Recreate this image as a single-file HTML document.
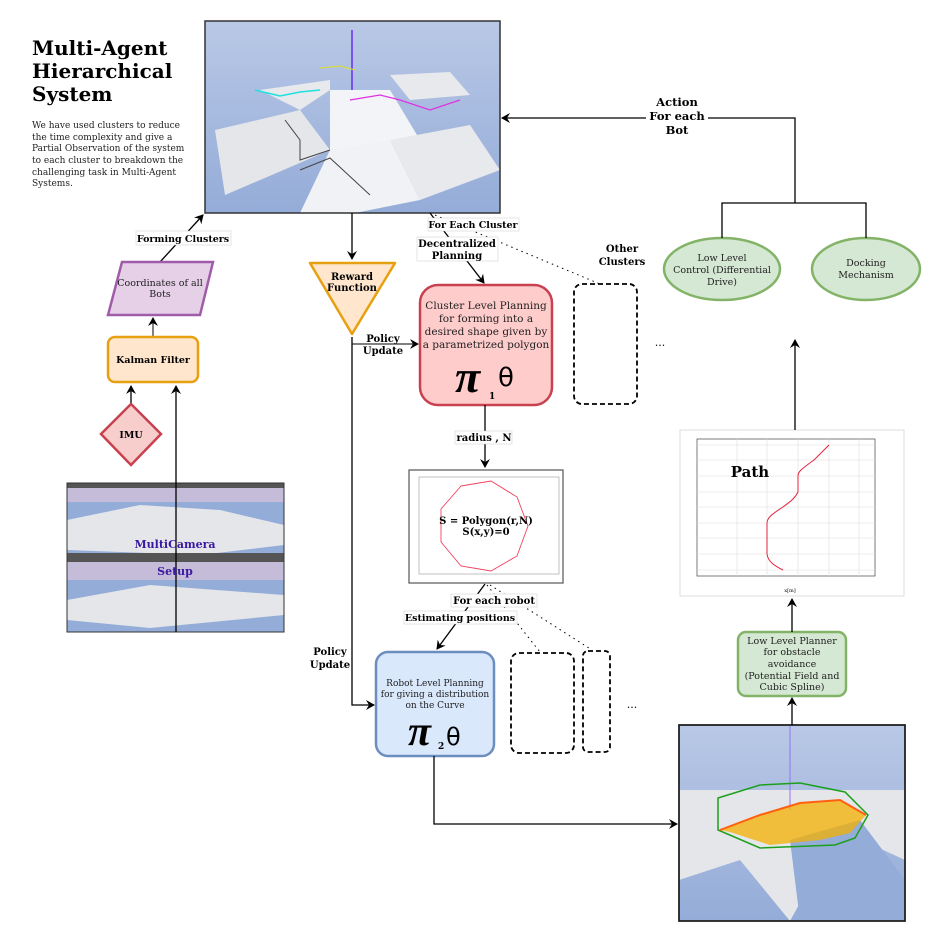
<!DOCTYPE html>
<html><head><meta charset="utf-8"><style>
html,body{margin:0;padding:0;background:#fff;}
svg{display:block;font-family:"DejaVu Serif","Liberation Serif",serif;}
</style></head><body>
<svg width="949" height="933" viewBox="0 0 949 933" xmlns="http://www.w3.org/2000/svg">
<defs>
<marker id="a" markerWidth="10" markerHeight="10" refX="8" refY="5" orient="auto" markerUnits="userSpaceOnUse"><path d="M0,0 L9,5 L0,10 L3,5z" fill="#000"/></marker>
<linearGradient id="sky" x1="0" y1="0" x2="0" y2="1"><stop offset="0" stop-color="#b9c8e6"/><stop offset="1" stop-color="#94acd8"/></linearGradient>
</defs>

<text x="32" y="55" font-size="20" font-weight="bold">Multi-Agent</text>
<text x="32" y="78" font-size="20" font-weight="bold">Hierarchical</text>
<text x="32" y="101" font-size="20" font-weight="bold">System</text>
<g font-size="9" fill="#222">
<text x="32" y="128">We have used clusters to reduce</text>
<text x="32" y="140">the time complexity and give a</text>
<text x="32" y="151">Partial Observation of the system</text>
<text x="32" y="163">to each cluster to breakdown the</text>
<text x="32" y="175">challenging task in Multi-Agent</text>
<text x="32" y="186">Systems.</text>
</g>

<g>
<rect x="205" y="21" width="295" height="192" fill="url(#sky)"/>
<polygon points="330,90 390,90 420,140 330,150" fill="#f2f4f8"/>
<polygon points="215,130 300,110 330,150 225,195" fill="#e4e6ea"/>
<polygon points="390,140 470,125 500,170 420,200" fill="#e8e9ec"/>
<polygon points="330,150 390,140 420,200 355,213 300,213" fill="#f0f2f6"/>
<polygon points="260,90 330,80 330,90 300,110" fill="#e8e9ec"/>
<polygon points="390,75 450,72 470,95 410,100" fill="#e8e9ec"/>
<line x1="352" y1="30" x2="352" y2="90" stroke="#6a2cf0" stroke-width="1.5"/>
<polyline points="255,90 280,96 300,92 320,90" stroke="#20e0e0" fill="none" stroke-width="1.5"/>
<polyline points="350,100 380,95 400,100 430,110 460,100" stroke="#e030e0" fill="none" stroke-width="1.2"/>
<polyline points="285,120 300,140 300,160 330,150" stroke="#444" fill="none"/>
<polyline points="300,170 330,158 370,195" stroke="#444" fill="none"/>
<polyline points="320,68 340,66 355,70" stroke="#e0e020" fill="none"/>
<rect x="205" y="21" width="295" height="192" fill="none" stroke="#333" stroke-width="1.5"/>
</g>

<line x1="160" y1="262" x2="203" y2="215" stroke="#000" stroke-width="1.3" marker-end="url(#a)"/>
<rect x="136" y="231" width="95" height="14" fill="#fff" stroke="#ccc" stroke-width="0.5"/>
<text x="183" y="242" font-size="9.5" font-weight="bold" text-anchor="middle">Forming Clusters</text>

<polygon points="122,262 213,262 200,315 108,315" fill="#e6d0e8" stroke="#a05ca8" stroke-width="2.5"/>
<text x="160" y="286" font-size="9.5" text-anchor="middle" fill="#222">Coordinates of all</text>
<text x="160" y="297" font-size="9.5" text-anchor="middle" fill="#222">Bots</text>

<line x1="153" y1="336" x2="153" y2="318" stroke="#000" marker-end="url(#a)"/>
<rect x="108" y="337" width="90" height="45" rx="7" fill="#ffe6cc" stroke="#e6a010" stroke-width="2.5"/>
<text x="153" y="363" font-size="9.5" font-weight="bold" text-anchor="middle">Kalman Filter</text>

<polygon points="131,404 161,434 131,465 101,434" fill="#f8cecc" stroke="#c8414f" stroke-width="2.5"/>
<text x="131" y="438" font-size="9.5" font-weight="bold" text-anchor="middle">IMU</text>
<line x1="131" y1="403" x2="131" y2="386" stroke="#000" stroke-width="1.3" marker-end="url(#a)"/>

<g>
<rect x="67" y="483" width="217" height="149" fill="#94acd8"/>
<rect x="67" y="483" width="217" height="5" fill="#555"/>
<rect x="67" y="488" width="217" height="14" fill="#c4bcd8"/>
<polygon points="67,520 140,505 220,510 284,525 284,545 200,555 67,550" fill="#e4e6ea"/>
<rect x="67" y="553" width="217" height="9" fill="#555"/>
<rect x="67" y="562" width="217" height="18" fill="#c4bcd8"/>
<polygon points="67,600 150,585 284,595 284,615 150,628 67,620" fill="#e4e6ea"/>
<rect x="67" y="483" width="217" height="149" fill="none" stroke="#333"/>
</g>
<line x1="176" y1="632" x2="176" y2="386" stroke="#000" stroke-width="1.3" marker-end="url(#a)"/>
<text x="175" y="548" font-size="11" font-weight="bold" fill="#3a18a0" text-anchor="middle">MultiCamera</text>
<text x="175" y="575" font-size="11" font-weight="bold" fill="#3a18a0" text-anchor="middle">Setup</text>

<line x1="352" y1="213" x2="352" y2="259" stroke="#000" stroke-width="1.3" marker-end="url(#a)"/>
<polygon points="310,263 395,263 352,334" fill="#ffe6cc" stroke="#e6a010" stroke-width="2.5" stroke-linejoin="round"/>
<text x="352" y="280" font-size="10" font-weight="bold" text-anchor="middle">Reward</text>
<text x="352" y="291" font-size="10" font-weight="bold" text-anchor="middle">Function</text>
<polyline points="352,337 352,705 374,705" fill="none" stroke="#000" stroke-width="1.3" marker-end="url(#a)"/>
<line x1="352" y1="344" x2="418" y2="344" stroke="#000" marker-end="url(#a)"/>
<text x="383" y="342" font-size="10" font-weight="bold" text-anchor="middle">Policy</text>
<text x="383" y="354" font-size="10" font-weight="bold" text-anchor="middle">Update</text>
<text x="330" y="655" font-size="10" font-weight="bold" text-anchor="middle">Policy</text>
<text x="330" y="668" font-size="10" font-weight="bold" text-anchor="middle">Update</text>

<line x1="430" y1="213" x2="484" y2="283" stroke="#000" stroke-width="1.3" marker-end="url(#a)"/>
<line x1="430" y1="213" x2="600" y2="284" stroke="#000" stroke-dasharray="1.5,4"/>
<rect x="428" y="218" width="91" height="13" fill="#fff" stroke="#ccc" stroke-width="0.5"/>
<text x="473" y="228" font-size="9.5" font-weight="bold" text-anchor="middle">For Each Cluster</text>
<rect x="417" y="237" width="81" height="24" fill="#fff" stroke="#ccc" stroke-width="0.5"/>
<text x="457" y="247" font-size="10" font-weight="bold" text-anchor="middle">Decentralized</text>
<text x="457" y="259" font-size="10" font-weight="bold" text-anchor="middle">Planning</text>

<rect x="420" y="285" width="132" height="120" rx="18" fill="#ffcccc" stroke="#c8414f" stroke-width="2.5"/>
<g font-size="10.5" text-anchor="middle" fill="#222">
<text x="486" y="309">Cluster Level Planning</text>
<text x="486" y="322">for forming into a</text>
<text x="486" y="335">desired shape given by</text>
<text x="486" y="348">a parametrized polygon</text>
</g>
<text x="455" y="392" font-size="46" font-weight="bold" font-style="italic" font-family="Liberation Serif,serif">π</text>
<text x="489" y="399" font-size="9" font-weight="bold">1</text>
<text x="498" y="386" font-size="26" font-family="DejaVu Sans,sans-serif">θ</text>

<text x="622" y="252" font-size="10" font-weight="bold" text-anchor="middle">Other</text>
<text x="622" y="265" font-size="10" font-weight="bold" text-anchor="middle">Clusters</text>
<rect x="574" y="284" width="63" height="120" rx="8" fill="none" stroke="#000" stroke-width="1.8" stroke-dasharray="5,3"/>
<text x="660" y="346" font-size="11" text-anchor="middle">...</text>

<line x1="485" y1="405" x2="485" y2="467" stroke="#000" stroke-width="1.3" marker-end="url(#a)"/>
<rect x="455" y="431" width="57" height="13" fill="#fff" stroke="#ccc" stroke-width="0.5"/>
<text x="484" y="441" font-size="10" font-weight="bold" text-anchor="middle">radius , N</text>

<rect x="409" y="470" width="154" height="113" fill="#fff" stroke="#555" stroke-width="1.2"/>
<rect x="419" y="477" width="140" height="97" fill="none" stroke="#999" stroke-width="0.6"/>
<polygon points="461,486 491,481 517,497 528,526 517,556 491,571 461,566 441,542 441,509" fill="none" stroke="#f04060" stroke-width="0.9"/>
<text x="486" y="524" font-size="10" font-weight="bold" text-anchor="middle">S = Polygon(r,N)</text>
<text x="486" y="535" font-size="10" font-weight="bold" text-anchor="middle">S(x,y)=0</text>

<line x1="485" y1="584" x2="437" y2="649" stroke="#000" stroke-width="1.3" marker-end="url(#a)"/>
<line x1="487" y1="585" x2="540" y2="652" stroke="#000" stroke-dasharray="1.5,4"/>
<line x1="490" y1="585" x2="592" y2="650" stroke="#000" stroke-dasharray="1.5,4"/>
<rect x="451" y="594" width="86" height="13" fill="#fff" stroke="#ccc" stroke-width="0.5"/>
<text x="494" y="604" font-size="10" font-weight="bold" text-anchor="middle">For each robot</text>
<rect x="404" y="611" width="113" height="13" fill="#fff" stroke="#ccc" stroke-width="0.5"/>
<text x="460" y="621" font-size="9.5" font-weight="bold" text-anchor="middle">Estimating positions</text>

<rect x="376" y="652" width="118" height="104" rx="12" fill="#dae8fc" stroke="#6c8ebf" stroke-width="2.5"/>
<g font-size="9" text-anchor="middle" fill="#222">
<text x="435" y="686">Robot Level Planning</text>
<text x="435" y="697">for giving a distribution</text>
<text x="435" y="708">on the Curve</text>
</g>
<text x="408" y="745" font-size="42" font-weight="bold" font-style="italic" font-family="Liberation Serif,serif">π</text>
<text x="438" y="749" font-size="9" font-weight="bold">2</text>
<text x="446" y="745" font-size="24" font-family="DejaVu Sans,sans-serif">θ</text>

<rect x="511" y="653" width="63" height="100" rx="8" fill="none" stroke="#000" stroke-width="1.8" stroke-dasharray="5,3"/>
<rect x="583" y="651" width="27" height="101" rx="5" fill="none" stroke="#000" stroke-width="1.8" stroke-dasharray="5,3"/>
<text x="632" y="708" font-size="11" text-anchor="middle">...</text>

<polyline points="434,756 434,824 677,824" fill="none" stroke="#000" stroke-width="1.3" marker-end="url(#a)"/>

<g>
<rect x="679" y="725" width="226" height="196" fill="url(#sky)"/>
<polygon points="679,790 905,790 905,860 840,830 790,921 740,860 679,880" fill="#e4e6ea"/>
<polygon points="790,840 860,820 905,880 905,921 800,921" fill="#94acd8"/>
<line x1="790" y1="725" x2="790" y2="810" stroke="#9a70f0"/>
<polygon points="718,798 760,785 800,783 845,792 868,815 855,838 835,845 760,848 718,830" fill="none" stroke="#1ca01c" stroke-width="1.5"/>
<polygon points="720,830 760,815 800,803 840,800 866,815 850,833 820,840 770,845 730,832" fill="#f4b000" opacity="0.75"/>
<polyline points="720,830 760,815 800,803 840,800 866,815" fill="none" stroke="#ff6010" stroke-width="2"/>
<rect x="679" y="725" width="226" height="196" fill="none" stroke="#222" stroke-width="1.8"/>
</g>

<line x1="792" y1="725" x2="792" y2="698" stroke="#000" stroke-width="1.3" marker-end="url(#a)"/>
<rect x="738" y="632" width="108" height="64" rx="8" fill="#d5e8d4" stroke="#82b366" stroke-width="2.5"/>
<g font-size="9.5" text-anchor="middle" fill="#222">
<text x="792" y="644">Low Level Planner</text>
<text x="792" y="655">for obstacle</text>
<text x="792" y="667">avoidance</text>
<text x="792" y="679">(Potential Field and</text>
<text x="792" y="690">Cubic Spline)</text>
</g>
<line x1="792" y1="632" x2="792" y2="599" stroke="#000" stroke-width="1.3" marker-end="url(#a)"/>

<rect x="680" y="430" width="224" height="166" fill="#fff" stroke="#ddd"/>
<rect x="697" y="439" width="178" height="137" fill="none" stroke="#444" stroke-width="0.7"/>
<g stroke="#ddd" stroke-width="0.6">
<line x1="697" y1="445" x2="875" y2="445"/><line x1="697" y1="460" x2="875" y2="460"/><line x1="697" y1="476" x2="875" y2="476"/><line x1="697" y1="492" x2="875" y2="492"/><line x1="697" y1="507" x2="875" y2="507"/><line x1="697" y1="523" x2="875" y2="523"/><line x1="697" y1="538" x2="875" y2="538"/><line x1="697" y1="554" x2="875" y2="554"/><line x1="697" y1="570" x2="875" y2="570"/>
<line x1="737" y1="439" x2="737" y2="576"/><line x1="767" y1="439" x2="767" y2="576"/><line x1="798" y1="439" x2="798" y2="576"/><line x1="829" y1="439" x2="829" y2="576"/><line x1="859" y1="439" x2="859" y2="576"/>
</g>
<path d="M829,445 L814,460 C800,470 798,472 798,476 L798,492 C794,500 788,503 783,507 C772,514 767,518 767,523 L767,538 L767,554 C768,562 775,566 783,570" fill="none" stroke="#e8203c" stroke-width="1"/>
<text x="750" y="477" font-size="15" font-weight="bold" text-anchor="middle">Path</text>
<text x="790" y="592" font-size="5" text-anchor="middle">x[m]</text>

<line x1="795" y1="430" x2="795" y2="340" stroke="#000" stroke-width="1.3" marker-end="url(#a)"/>
<ellipse cx="722" cy="269" rx="58" ry="31" fill="#d5e8d4" stroke="#82b366" stroke-width="2.5"/>
<ellipse cx="866" cy="269" rx="54" ry="31" fill="#d5e8d4" stroke="#82b366" stroke-width="2.5"/>
<g font-size="9.5" text-anchor="middle" fill="#222">
<text x="722" y="261">Low Level</text>
<text x="722" y="273">Control (Differential</text>
<text x="722" y="285">Drive)</text>
<text x="866" y="266">Docking</text>
<text x="866" y="278">Mechanism</text>
</g>
<polyline points="722,238 722,203 866,203 866,238" fill="none" stroke="#000" stroke-width="1.3"/>
<polyline points="795,203 795,118 502,118" fill="none" stroke="#000" stroke-width="1.3" marker-end="url(#a)"/>
<rect x="646" y="95" width="62" height="42" fill="#fff"/>
<text x="677" y="106" font-size="11.5" font-weight="bold" text-anchor="middle">Action</text>
<text x="677" y="120" font-size="11.5" font-weight="bold" text-anchor="middle">For each</text>
<text x="677" y="134" font-size="11.5" font-weight="bold" text-anchor="middle">Bot</text>
</svg>
</body></html>
